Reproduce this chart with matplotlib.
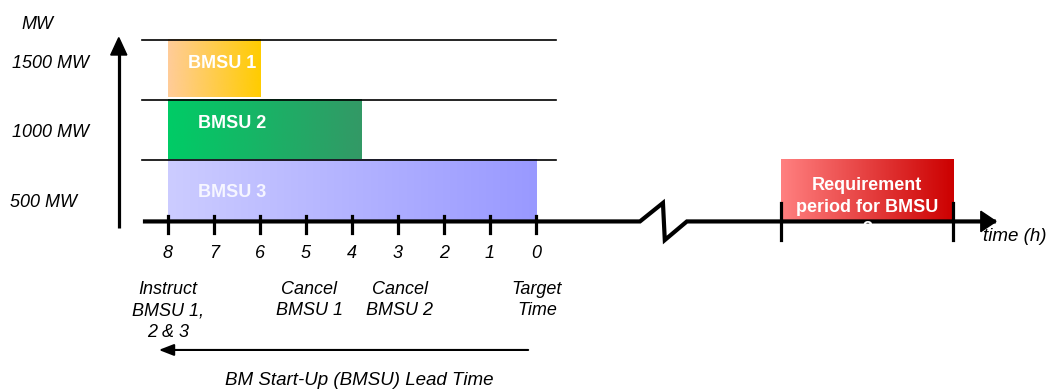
import numpy as np
import matplotlib
matplotlib.use("Agg")
import matplotlib.pyplot as plt
from matplotlib.colors import LinearSegmentedColormap
from matplotlib.patches import Polygon

plt.rcParams['font.family'] = ['Liberation Sans', 'DejaVu Sans']

# Lead-time axis (hours before target time) and the start-up blocks
hours = [8, 7, 6, 5, 4, 3, 2, 1, 0]
unit_names = ["BMSU 1", "BMSU 2", "BMSU 3"]
unit_start_h = [8, 8, 8]
unit_end_h = [6, 3.8, 0]
unit_mw_low = [1000, 500, 0]
unit_mw_high = [1500, 1000, 500]
unit_colors = [("#FFCC99", "#FFCC00"), ("#00CC66", "#339966"), ("#CCCCFF", "#9999FF")]
unit_label_x = [-6.83, -6.61, -6.61]
unit_label_y = [1308, 800, 225]

level_labels = ["1500 MW", "1000 MW", "500 MW"]
level_label_x = [-11.39, -11.39, -11.43]
level_label_y = [1308, 725, 150]
band_lines_mw = [1500, 1000, 500]

events = ["Instruct\nBMSU 1,\n2 & 3", "Cancel\nBMSU 1", "Cancel\nBMSU 2", "Target\nTime"]
event_x = [-8.0, -4.93, -2.96, 0.02]

# Requirement period placed after the axis break (position units)
req_span = (5.33, 9.07)
req_mw = (0, 500)
req_colors = ("#FF8080", "#CC0000")

fig = plt.figure(figsize=(10.5, 3.92), dpi=100)
ax = fig.add_axes([0, 0, 1, 1])
ax.set_xlim(-11.652, 11.174)
ax.set_ylim(-1433.3, 1833.3)
ax.axis("off")

FS = 13


def gradient_box(x0, x1, y0, y1, c0, c1, z=1):
    cmap = LinearSegmentedColormap.from_list("g", [c0, c1])
    grad = np.linspace(0, 1, 256).reshape(1, -1)
    ax.imshow(grad, cmap=cmap, extent=(x0, x1, y0, y1), aspect="auto",
              interpolation="bicubic", zorder=z)


# Unit blocks
for name, hs, he, lo, hi, (c0, c1), lx, ly in zip(unit_names, unit_start_h, unit_end_h,
                                                  unit_mw_low, unit_mw_high, unit_colors,
                                                  unit_label_x, unit_label_y):
    bot = lo + (25 if name == "BMSU 1" else 0)
    gradient_box(-hs, -he, bot, hi, c0, c1)
    ax.text(lx, ly, name, color="white", fontsize=FS, fontweight="bold",
            ha="center", va="center", zorder=5,
            alpha=0.85 if name == "BMSU 3" else 1.0)

# Band separators
for mw in band_lines_mw:
    ax.plot([-8.57, 0.435], [mw, mw], color="black", lw=1.2, zorder=3)

# Requirement period block
gradient_box(req_span[0], req_span[1], req_mw[0], req_mw[1], *req_colors)
ax.text((req_span[0] + req_span[1]) / 2, 358, "Requirement\nperiod for BMSU\n3",
        color="white", fontsize=FS, fontweight="bold", ha="center", va="top",
        linespacing=1.38, zorder=6)

# Vertical MW axis
ax.plot([-9.07, -9.07], [-67, 1450], color="black", lw=2.3, zorder=4,
        solid_capstyle="butt")
ax.add_patch(Polygon([[-9.07, 1520], [-9.245, 1375], [-8.895, 1375]], closed=True,
                     color="black", zorder=4))

# Horizontal time axis with a break
axis_y = -12
ax.plot([-8.5, 2.26, 2.76, 2.80, 3.28, 9.95],
        [axis_y, axis_y, 142, -167, axis_y, axis_y],
        color="black", lw=3, zorder=4, solid_joinstyle="miter")
ax.add_patch(Polygon([[10.0, axis_y], [9.67, axis_y + 85], [9.67, axis_y - 85]],
                     closed=True, color="black", zorder=4))

for h in hours:
    ax.plot([-h, -h], [30, -110], color="black", lw=2.3, zorder=4)
    ax.text(-h, -275, str(h), fontsize=FS, style="italic", ha="center", va="center")

for xr in req_span:
    ax.plot([xr, xr], [142, -167], color="black", lw=2.3, zorder=4)

ax.text(10.41, -141, "time (h)", fontsize=13.5, style="italic", ha="center", va="center")

# MW level labels
ax.text(-11.18, 1625, "MW", fontsize=FS, style="italic", ha="left", va="center")
for lab, x, y in zip(level_labels, level_label_x, level_label_y):
    ax.text(x, y, lab, fontsize=FS, style="italic", ha="left", va="center")

# Event annotations under the lead-time axis
for ev, x in zip(events, event_x):
    ax.text(x, -505, ev, fontsize=FS, style="italic", ha="center", va="top",
            linespacing=1.37)

# Lead-time arrow
ax.annotate("", xy=(-8.2, -1083), xytext=(-0.17, -1083),
            arrowprops=dict(arrowstyle="-|>,head_length=0.9,head_width=0.35",
                            color="black", lw=1.5, shrinkA=0, shrinkB=0))
ax.text(-3.85, -1341, "BM Start-Up (BMSU) Lead Time", fontsize=13.5, style="italic",
        ha="center", va="center")

fig.savefig("out.png", dpi=100)
